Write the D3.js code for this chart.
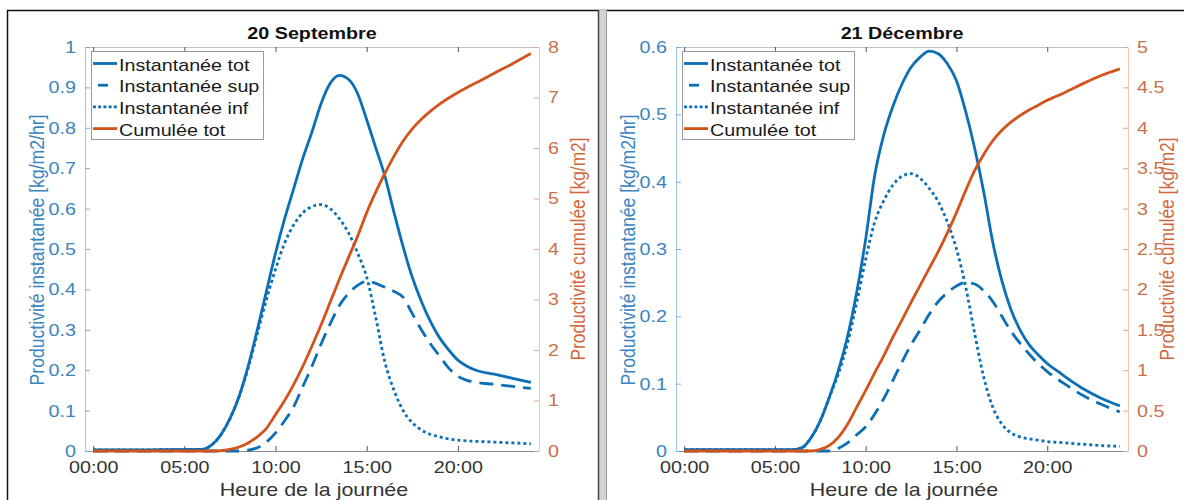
<!DOCTYPE html>
<html>
<head>
<meta charset="utf-8">
<script src="https://cdn.jsdelivr.net/npm/d3@7"></script>
<style>
  body { margin: 0; background: #fff; }
  svg { display: block; font-family: "Liberation Sans", Arial, Helvetica, sans-serif; }
</style>
</head>
<body>
<div id="chart"></div>
<script>
// hours of the day (shared x values)
const hours = [0, 3, 6, 6.5, 7, 7.5, 8, 8.5, 9, 9.5, 10, 10.5, 11, 11.5, 12, 12.5, 13, 13.5,
  14, 14.5, 15, 15.5, 16, 16.5, 17, 17.5, 18, 18.5, 19, 19.5, 20, 20.5, 21, 22, 23, 24];

// 20 Septembre
const septTot = [0.003, 0.003, 0.004, 0.015, 0.04, 0.08, 0.135, 0.21, 0.3, 0.395, 0.49, 0.575, 0.65, 0.725,
  0.79, 0.86, 0.91, 0.93, 0.92, 0.885, 0.82, 0.75, 0.68, 0.59, 0.505, 0.43, 0.37, 0.32, 0.28, 0.25,
  0.225, 0.21, 0.2, 0.19, 0.18, 0.17];
const septSup = [0, 0, 0, 0, 0, 0, 0, 0.002, 0.008, 0.022, 0.045, 0.075, 0.11, 0.16, 0.21, 0.265,
  0.315, 0.36, 0.39, 0.41, 0.42, 0.415, 0.405, 0.395, 0.38, 0.34, 0.3, 0.265, 0.235, 0.205,
  0.185, 0.175, 0.17, 0.165, 0.16, 0.155];
const septInf = [0.003, 0.003, 0.004, 0.015, 0.04, 0.08, 0.135, 0.205, 0.29, 0.375, 0.45, 0.515, 0.56,
  0.59, 0.605, 0.61, 0.6, 0.575, 0.54, 0.49, 0.43, 0.33, 0.22, 0.15, 0.1, 0.07, 0.052, 0.041,
  0.035, 0.03, 0.027, 0.025, 0.024, 0.022, 0.02, 0.018];
const septCum = [0, 0, 0, 0, 0.005, 0.03, 0.08, 0.16, 0.28, 0.45, 0.72, 1.0, 1.32, 1.68, 2.08, 2.5,
  2.95, 3.4, 3.83, 4.25, 4.72, 5.13, 5.5, 5.84, 6.14, 6.38, 6.57, 6.73, 6.87, 6.99, 7.1, 7.2,
  7.29, 7.48, 7.67, 7.87];

// 21 Décembre
const decTot = [0.002, 0.002, 0.002, 0.005, 0.02, 0.045, 0.08, 0.12, 0.17, 0.235, 0.315, 0.41, 0.47,
  0.512, 0.545, 0.57, 0.585, 0.594, 0.59, 0.575, 0.55, 0.505, 0.45, 0.385, 0.31, 0.253, 0.21,
  0.18, 0.158, 0.143, 0.13, 0.12, 0.11, 0.092, 0.078, 0.067];
const decSup = [0, 0, 0, 0, 0, 0, 0, 0.004, 0.012, 0.024, 0.036, 0.055, 0.078, 0.105, 0.132, 0.158,
  0.18, 0.203, 0.222, 0.235, 0.245, 0.25, 0.248, 0.238, 0.222, 0.2, 0.178, 0.16, 0.144, 0.13,
  0.118, 0.108, 0.099, 0.082, 0.069, 0.058];
const decInf = [0.002, 0.002, 0.002, 0.005, 0.02, 0.045, 0.08, 0.115, 0.16, 0.22, 0.285, 0.34, 0.372,
  0.395, 0.408, 0.412, 0.405, 0.39, 0.37, 0.34, 0.3, 0.245, 0.175, 0.11, 0.065, 0.04, 0.027,
  0.021, 0.018, 0.016, 0.014, 0.013, 0.012, 0.01, 0.008, 0.007];
const decCum = [0, 0, 0, 0, 0, 0.02, 0.07, 0.17, 0.33, 0.54, 0.75, 0.97, 1.18, 1.41, 1.62, 1.84, 2.05,
  2.26, 2.47, 2.7, 2.95, 3.22, 3.47, 3.67, 3.84, 3.97, 4.07, 4.15, 4.22, 4.28, 4.34, 4.39, 4.44,
  4.55, 4.65, 4.73];

const xTickHours = [0, 5, 10, 15, 20];
const xTickLabels = ["00:00", "05:00", "10:00", "15:00", "20:00"];
const septLeftTicks = [0, 0.1, 0.2, 0.3, 0.4, 0.5, 0.6, 0.7, 0.8, 0.9, 1];
const septRightTicks = [0, 1, 2, 3, 4, 5, 6, 7, 8];
const decLeftTicks = [0, 0.1, 0.2, 0.3, 0.4, 0.5, 0.6];
const decRightTicks = [0, 0.5, 1, 1.5, 2, 2.5, 3, 3.5, 4, 4.5, 5];
const legendLabels = ["Instantanée tot", "Instantanée sup", "Instantanée inf", "Cumulée tot"];

const BLUE = "#0b6fb5";
const ORANGE = "#d4531c";
const STRETCH = 1.16; // the screenshot is a bit wider than tall

class DayPanelVis {
  constructor(_svg, _box, _title, _series, _leftTicks, _rightTicks) {
    this.svg = _svg;
    this.box = _box;
    this.title = _title;
    this.series = _series;
    this.leftTicks = _leftTicks;
    this.rightTicks = _rightTicks;
    this.initVis();
  }

  initVis() {
    let vis = this;
    let b = vis.box;

    vis.x = d3.scaleLinear().domain([-0.45, 24.45]).range([b.left, b.right]);
    vis.yLeft = d3.scaleLinear()
      .domain([0, d3.max(vis.leftTicks)])
      .range([b.bottom, b.top]);
    vis.yRight = d3.scaleLinear()
      .domain([0, d3.max(vis.rightTicks)])
      .range([b.bottom, b.top]);

    vis.g = vis.svg.append("g");

    // axes
    vis.topAxis = vis.g.append("g")
      .attr("transform", `translate(0,${b.top})`)
      .call(d3.axisTop(vis.x).tickValues(xTickHours).tickFormat("").tickSize(-5).tickSizeOuter(0));
    vis.topAxis.select(".domain").attr("stroke", "#c4c4c4");
    vis.topAxis.selectAll(".tick line").attr("stroke", "#555");

    vis.bottomAxis = vis.g.append("g")
      .attr("transform", `translate(0,${b.bottom})`)
      .call(d3.axisBottom(vis.x)
        .tickValues(xTickHours)
        .tickFormat((d, i) => xTickLabels[i])
        .tickSize(-5).tickSizeOuter(0).tickPadding(10));
    vis.bottomAxis.select(".domain").attr("stroke", "#8a8a8a");
    vis.bottomAxis.selectAll(".tick line").attr("stroke", "#555");
    vis.bottomAxis.selectAll(".tick text")
      .attr("font-size", 17)
      .attr("fill", "#333")
      .attr("transform", `scale(${STRETCH},1)`);

    vis.leftAxis = vis.g.append("g")
      .attr("transform", `translate(${b.left},0)`)
      .call(d3.axisLeft(vis.yLeft).tickValues(vis.leftTicks).tickFormat((d) => String(d))
        .tickSize(-5).tickSizeOuter(0).tickPadding(9));
    vis.leftAxis.select(".domain").attr("stroke", "#9fc4e6");
    vis.leftAxis.selectAll(".tick line").attr("stroke", "#7aaad6");
    vis.leftAxis.selectAll(".tick text")
      .attr("font-size", 17)
      .attr("fill", "#3a84c0")
      .attr("x", -9 / STRETCH)
      .attr("transform", `scale(${STRETCH},1)`);

    vis.rightAxis = vis.g.append("g")
      .attr("transform", `translate(${b.right},0)`)
      .call(d3.axisRight(vis.yRight).tickValues(vis.rightTicks).tickFormat((d) => String(d))
        .tickSize(-5).tickSizeOuter(0).tickPadding(9));
    vis.rightAxis.select(".domain").attr("stroke", "#efc5b2");
    vis.rightAxis.selectAll(".tick line").attr("stroke", "#e3a68a");
    vis.rightAxis.selectAll(".tick text")
      .attr("font-size", 17)
      .attr("fill", "#c9714b")
      .attr("x", 9 / STRETCH)
      .attr("transform", `scale(${STRETCH},1)`);

    // titles
    let cx = (b.left + b.right) / 2;
    let cy = (b.top + b.bottom) / 2;
    vis.g.append("text")
      .attr("transform", `translate(${cx},38.5) scale(${STRETCH},1)`)
      .attr("text-anchor", "middle")
      .attr("font-size", 17)
      .attr("font-weight", "bold")
      .attr("fill", "#111")
      .text(vis.title);

    vis.g.append("text")
      .attr("transform", `translate(${cx + 2},496) scale(${STRETCH},1)`)
      .attr("text-anchor", "middle")
      .attr("font-size", 18.5)
      .attr("fill", "#333")
      .text("Heure de la journée");

    vis.g.append("text")
      .attr("transform", `translate(${b.left - 41},${cy + 1}) rotate(-90) scale(1,${STRETCH})`)
      .attr("text-anchor", "middle")
      .attr("font-size", 17.6)
      .attr("fill", "#3a84c0")
      .text("Productivité instantanée [kg/m2/hr]");

    vis.g.append("text")
      .attr("transform", `translate(${b.right + 46},${cy}) rotate(-90) scale(1,${STRETCH})`)
      .attr("text-anchor", "middle")
      .attr("font-size", 17.4)
      .attr("fill", "#d0683c")
      .text("Productivité cumulée [kg/m2]");

    vis.linesGroup = vis.g.append("g").attr("class", "lines");
    vis.legendGroup = vis.g.append("g").attr("class", "legend");

    vis.updateVis();
  }

  updateVis() {
    let vis = this;
    let s = vis.series;

    let lineLeft = d3.line()
      .x((d) => vis.x(d[0]))
      .y((d) => vis.yLeft(d[1]))
      .curve(d3.curveMonotoneX);
    let lineRight = d3.line()
      .x((d) => vis.x(d[0]))
      .y((d) => vis.yRight(d[1]))
      .curve(d3.curveMonotoneX);

    let lines = [
      { values: s.tot, path: lineLeft, color: BLUE, dash: null },
      { values: s.sup, path: lineLeft, color: BLUE, dash: "14,8" },
      { values: s.inf, path: lineLeft, color: BLUE, dash: "3,3" },
      { values: s.cum, path: lineRight, color: ORANGE, dash: null },
    ];

    vis.linesGroup
      .selectAll(".curve")
      .data(lines)
      .join("path")
      .attr("class", "curve")
      .attr("fill", "none")
      .attr("stroke", (d) => d.color)
      .attr("stroke-width", 2.8)
      .attr("stroke-dasharray", (d) => d.dash)
      .attr("d", (d) => d.path(hours.map((h, i) => [h, d.values[i]])));

    // legend, top left inside the axes
    let lx = vis.box.left + 6;
    let ly = vis.box.top + 4;
    vis.legendGroup.append("rect")
      .attr("x", lx + 0.5)
      .attr("y", ly + 0.5)
      .attr("width", 172)
      .attr("height", 88)
      .attr("fill", "#fff")
      .attr("stroke", "#9a9a9a");

    let entries = [
      { color: BLUE, dash: null, offset: 0 },
      { color: BLUE, dash: "10,30", offset: -5 },
      { color: BLUE, dash: "3,2.2", offset: 0 },
      { color: ORANGE, dash: null, offset: 0 },
    ];

    let row = vis.legendGroup
      .selectAll(".legend-row")
      .data(entries)
      .join("g")
      .attr("class", "legend-row")
      .attr("transform", (d, i) => `translate(${lx},${ly + 12.5 + i * 21.7})`);

    row.append("line")
      .attr("x1", 2)
      .attr("x2", 26)
      .attr("stroke", (d) => d.color)
      .attr("stroke-width", 2.8)
      .attr("stroke-dasharray", (d) => d.dash)
      .attr("stroke-dashoffset", (d) => d.offset);

    row.append("text")
      .attr("transform", `translate(28,7) scale(${STRETCH},1)`)
      .attr("font-size", 17)
      .attr("fill", "#1a1a1a")
      .text((d, i) => legendLabels[i]);
  }
}

const svg = d3.select("#chart")
  .append("svg")
  .attr("width", 1184)
  .attr("height", 500);

svg.append("rect").attr("width", 1184).attr("height", 500).attr("fill", "#fff");

new DayPanelVis(
  svg,
  { left: 85, right: 539, top: 47, bottom: 451 },
  "20 Septembre",
  { tot: septTot, sup: septSup, inf: septInf, cum: septCum },
  septLeftTicks,
  septRightTicks
);

new DayPanelVis(
  svg,
  { left: 676, right: 1128, top: 47, bottom: 451 },
  "21 Décembre",
  { tot: decTot, sup: decSup, inf: decInf, cum: decCum },
  decLeftTicks,
  decRightTicks
);

// screenshot frame: outer border and window divider
let frame = svg.append("g").attr("class", "frame");
frame.append("line").attr("x1", 7).attr("x2", 1184).attr("y1", 10.5).attr("y2", 10.5)
  .attr("stroke", "#111").attr("stroke-width", 1.5);
frame.append("line").attr("x1", 7.5).attr("x2", 7.5).attr("y1", 10).attr("y2", 500)
  .attr("stroke", "#111").attr("stroke-width", 1.5);
frame.append("rect").attr("x", 598).attr("y", 10).attr("width", 9).attr("height", 490)
  .attr("fill", "#d2d2d2");
frame.append("line").attr("x1", 598.5).attr("x2", 598.5).attr("y1", 10).attr("y2", 500)
  .attr("stroke", "#444").attr("stroke-width", 1.5);
frame.append("line").attr("x1", 606.5).attr("x2", 606.5).attr("y1", 10).attr("y2", 500)
  .attr("stroke", "#9a9a9a").attr("stroke-width", 1);
</script>
</body>
</html>
